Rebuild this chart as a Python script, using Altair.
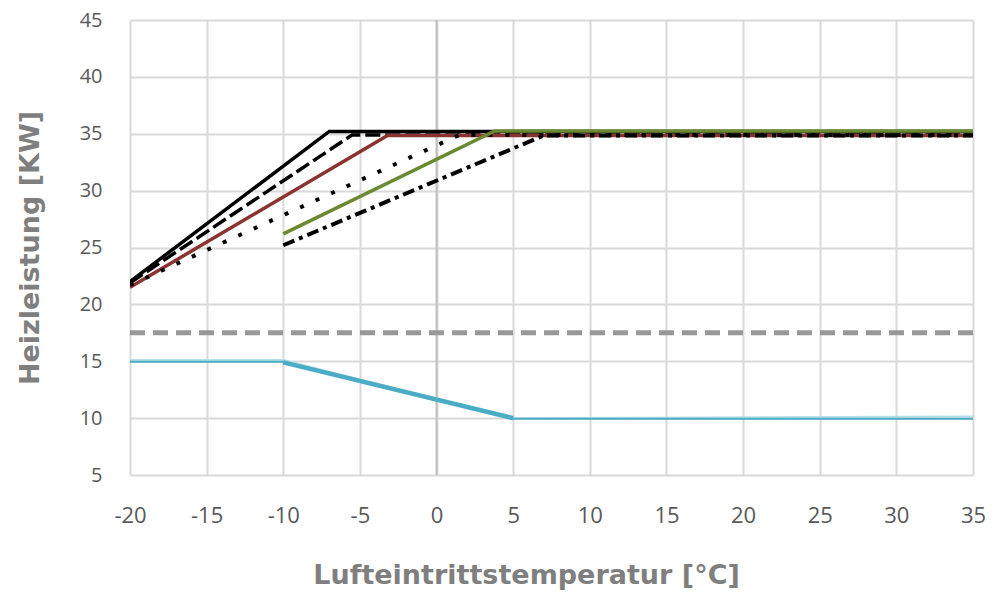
import altair as alt
import pandas as pd

# Series data (x = Lufteintrittstemperatur °C, y = Heizleistung kW)
s_black_x = [-20, -7, 35]
s_black_y = [22.0, 35.2, 35.2]
s_dash_x = [-20, -5.5, 35]
s_dash_y = [21.9, 34.9, 34.9]
s_red_x = [-20, -3.2, 35]
s_red_y = [21.5, 34.85, 34.85]
s_dot_x = [-20, 1.5, 35]
s_dot_y = [21.7, 34.9, 34.9]
s_green_x = [-10, 3.8, 35]
s_green_y = [26.2, 35.25, 35.25]
s_dashdot_x = [-10, 7, 35]
s_dashdot_y = [25.2, 34.85, 34.85]
s_gray_x = [-20, 35]
s_gray_y = [17.5, 17.5]
s_light_x = [-20, -10, 5, 35]
s_light_y = [15.1, 15.1, 10.0, 10.15]
s_blue_x = [-20, -10, 5, 35]
s_blue_y = [14.95, 14.95, 9.95, 9.95]
s_blue_slope_x = [-10, 5]
s_blue_slope_y = [14.9, 10.0]

x_ticks = list(range(-20, 40, 5))
y_ticks = list(range(5, 50, 5))

series = [
    ("gray", s_gray_x, s_gray_y, "#989898", 5, [15, 8]),
    ("light", s_light_x, s_light_y, "#B7DEE8", 2, None),
    ("blue", s_blue_x, s_blue_y, "#4BACC6", 2, None),
    ("blueslope", s_blue_slope_x, s_blue_slope_y, "#4BACC6", 4.5, None),
    ("black", s_black_x, s_black_y, "#000000", 3.5, None),
    ("dash", s_dash_x, s_dash_y, "#000000", 3.5, [15, 5]),
    ("red", s_red_x, s_red_y, "#8B3330", 3.5, None),
    ("dot", s_dot_x, s_dot_y, "#000000", 4, [4, 13]),
    ("green", s_green_x, s_green_y, "#6A8A32", 3.5, None),
    ("dashdot", s_dashdot_x, s_dashdot_y, "#000000", 4, [12, 5, 4, 5]),
]

xscale = alt.Scale(domain=[-20, 35], nice=False, zero=False)
yscale = alt.Scale(domain=[5, 45], nice=False, zero=False)

xaxis = alt.Axis(values=x_ticks, title="Lufteintrittstemperatur [°C]", grid=True,
                 gridColor="#D9D9D9", gridWidth=2, domain=False, ticks=False,
                 labelExpr="toString(datum.value)",
                 labelFontSize=22, labelColor="#595959", labelPadding=30,
                 labelFont="Open Sans", titleFont="DejaVu Sans", titleFontSize=27,
                 titleFontWeight="bold", titleColor="#7F7F7F", titlePadding=36,
                 titleX=396, titleAlign="center",
                 labelFlush=False)
yaxis = alt.Axis(values=y_ticks, title="Heizleistung [KW]", grid=True,
                 gridColor="#D9D9D9", gridWidth=2, domain=False, ticks=False,
                 labelExpr="toString(datum.value)",
                 labelFontSize=20, labelColor="#595959", labelPadding=28,
                 labelFont="Open Sans", titleFont="DejaVu Sans", titleFontSize=27,
                 titleFontWeight="bold", titleColor="#7F7F7F", titlePadding=35,
                 labelFlush=False)

layers = []
zero_df = pd.DataFrame({"x": [0]})
layers.append(
    alt.Chart(zero_df).mark_rule(color="#C0C0C0", strokeWidth=2).encode(
        x=alt.X("x:Q", scale=xscale, axis=xaxis)
    )
)
for i, (name, xs, ys, col, w, dash) in enumerate(series):
    df = pd.DataFrame({"x": xs, "y": ys, "o": list(range(len(xs)))})
    kw = dict(color=col, strokeWidth=w, clip=True)
    if dash:
        kw["strokeDash"] = dash
    layers.append(
        alt.Chart(df).mark_line(**kw).encode(
            x=alt.X("x:Q", scale=xscale, axis=xaxis),
            y=alt.Y("y:Q", scale=yscale, axis=yaxis),
            order="o:Q",
        )
    )

chart = alt.layer(*layers).properties(
    width=843, height=455,
    autosize=alt.AutoSizeParams(type="none"),
    padding={"left": 122, "top": 12, "right": 20, "bottom": 124},
).configure_view(stroke=None).configure(background="white")

chart.save("out.html", embed_options={"renderer": "svg", "actions": False})
